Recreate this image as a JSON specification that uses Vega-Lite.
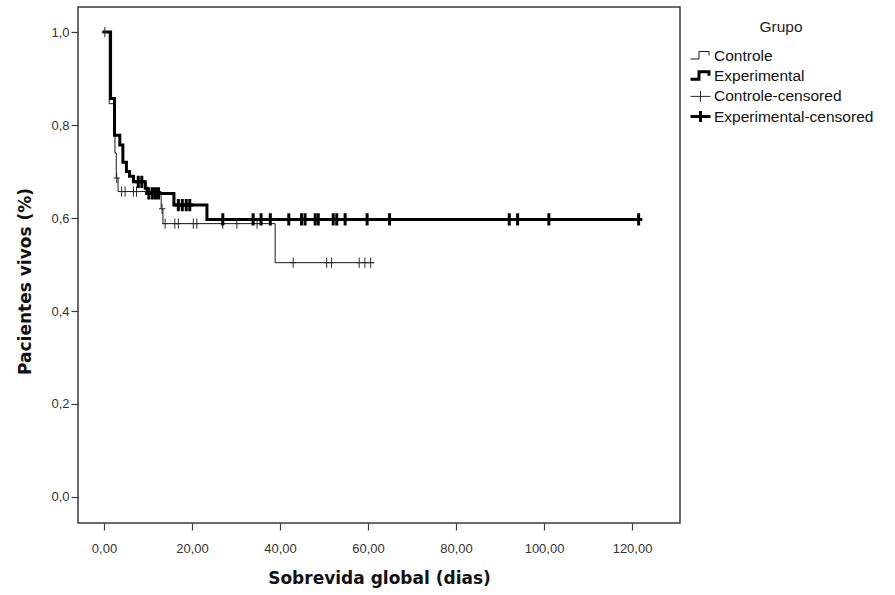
{
  "$schema": "https://vega.github.io/schema/vega-lite/v6.json",
  "autosize": "none",
  "width": 602,
  "height": 516,
  "padding": {"left": 78, "top": 7, "right": 215, "bottom": 72},
  "background": "white",
  "config": {
    "view": {"stroke": "#3a3a3a", "strokeWidth": 1.5},
    "axis": {
      "grid": false,
      "domain": false,
      "tickColor": "#3a3a3a",
      "tickSize": 7,
      "tickWidth": 1.2,
      "labelFont": "Liberation Sans",
      "labelFontSize": 13,
      "labelColor": "#333333",
      "titleFont": "DejaVu Sans",
      "titleFontWeight": "bold",
      "titleFontSize": 17,
      "titleColor": "#111111"
    }
  },
  "data": {"values": [
      {"g": "Controle", "k": "line", "t": 0, "s": 1.0},
      {"g": "Controle", "k": "line", "t": 1.2, "s": 0.846},
      {"g": "Controle", "k": "line", "t": 2.5, "s": 0.74},
      {"g": "Controle", "k": "line", "t": 2.8, "s": 0.686},
      {"g": "Controle", "k": "line", "t": 3.2, "s": 0.657},
      {"g": "Controle", "k": "line", "t": 13.0, "s": 0.62},
      {"g": "Controle", "k": "line", "t": 13.4, "s": 0.588},
      {"g": "Controle", "k": "line", "t": 38.9, "s": 0.504},
      {"g": "Controle", "k": "line", "t": 61.4, "s": 0.504},
      {"g": "Experimental", "k": "line", "t": 0, "s": 1.0},
      {"g": "Experimental", "k": "line", "t": 1.5, "s": 0.857},
      {"g": "Experimental", "k": "line", "t": 2.4, "s": 0.778},
      {"g": "Experimental", "k": "line", "t": 3.6, "s": 0.757},
      {"g": "Experimental", "k": "line", "t": 4.3, "s": 0.72},
      {"g": "Experimental", "k": "line", "t": 5.1, "s": 0.70},
      {"g": "Experimental", "k": "line", "t": 5.8, "s": 0.69},
      {"g": "Experimental", "k": "line", "t": 6.7, "s": 0.678},
      {"g": "Experimental", "k": "line", "t": 9.4, "s": 0.664},
      {"g": "Experimental", "k": "line", "t": 9.8, "s": 0.653},
      {"g": "Experimental", "k": "line", "t": 15.9, "s": 0.628},
      {"g": "Experimental", "k": "line", "t": 23.4, "s": 0.597},
      {"g": "Experimental", "k": "line", "t": 121.5, "s": 0.597},
      {"g": "Controle-censored", "k": "cens", "t": 0.2, "s": 1.0},
      {"g": "Controle-censored", "k": "cens", "t": 2.9, "s": 0.686},
      {"g": "Controle-censored", "k": "cens", "t": 4.0, "s": 0.657},
      {"g": "Controle-censored", "k": "cens", "t": 4.8, "s": 0.657},
      {"g": "Controle-censored", "k": "cens", "t": 6.7, "s": 0.657},
      {"g": "Controle-censored", "k": "cens", "t": 7.4, "s": 0.657},
      {"g": "Controle-censored", "k": "cens", "t": 13.2, "s": 0.62},
      {"g": "Controle-censored", "k": "cens", "t": 13.9, "s": 0.588},
      {"g": "Controle-censored", "k": "cens", "t": 16.1, "s": 0.588},
      {"g": "Controle-censored", "k": "cens", "t": 16.9, "s": 0.588},
      {"g": "Controle-censored", "k": "cens", "t": 20.3, "s": 0.588},
      {"g": "Controle-censored", "k": "cens", "t": 21.1, "s": 0.588},
      {"g": "Controle-censored", "k": "cens", "t": 27.0, "s": 0.588},
      {"g": "Controle-censored", "k": "cens", "t": 30.2, "s": 0.588},
      {"g": "Controle-censored", "k": "cens", "t": 34.8, "s": 0.588},
      {"g": "Controle-censored", "k": "cens", "t": 43.0, "s": 0.504},
      {"g": "Controle-censored", "k": "cens", "t": 50.6, "s": 0.504},
      {"g": "Controle-censored", "k": "cens", "t": 51.7, "s": 0.504},
      {"g": "Controle-censored", "k": "cens", "t": 58.0, "s": 0.504},
      {"g": "Controle-censored", "k": "cens", "t": 59.3, "s": 0.504},
      {"g": "Controle-censored", "k": "cens", "t": 60.6, "s": 0.504},
      {"g": "Experimental-censored", "k": "cens", "t": 7.8, "s": 0.678},
      {"g": "Experimental-censored", "k": "cens", "t": 8.6, "s": 0.678},
      {"g": "Experimental-censored", "k": "cens", "t": 10.2, "s": 0.653},
      {"g": "Experimental-censored", "k": "cens", "t": 11.0, "s": 0.653},
      {"g": "Experimental-censored", "k": "cens", "t": 11.7, "s": 0.653},
      {"g": "Experimental-censored", "k": "cens", "t": 12.4, "s": 0.653},
      {"g": "Experimental-censored", "k": "cens", "t": 16.9, "s": 0.628},
      {"g": "Experimental-censored", "k": "cens", "t": 17.8, "s": 0.628},
      {"g": "Experimental-censored", "k": "cens", "t": 18.7, "s": 0.628},
      {"g": "Experimental-censored", "k": "cens", "t": 19.5, "s": 0.628},
      {"g": "Experimental-censored", "k": "cens", "t": 27.0, "s": 0.597},
      {"g": "Experimental-censored", "k": "cens", "t": 33.9, "s": 0.597},
      {"g": "Experimental-censored", "k": "cens", "t": 35.7, "s": 0.597},
      {"g": "Experimental-censored", "k": "cens", "t": 37.8, "s": 0.597},
      {"g": "Experimental-censored", "k": "cens", "t": 42.0, "s": 0.597},
      {"g": "Experimental-censored", "k": "cens", "t": 44.9, "s": 0.597},
      {"g": "Experimental-censored", "k": "cens", "t": 45.7, "s": 0.597},
      {"g": "Experimental-censored", "k": "cens", "t": 48.0, "s": 0.597},
      {"g": "Experimental-censored", "k": "cens", "t": 48.7, "s": 0.597},
      {"g": "Experimental-censored", "k": "cens", "t": 52.1, "s": 0.597},
      {"g": "Experimental-censored", "k": "cens", "t": 52.9, "s": 0.597},
      {"g": "Experimental-censored", "k": "cens", "t": 54.8, "s": 0.597},
      {"g": "Experimental-censored", "k": "cens", "t": 59.8, "s": 0.597},
      {"g": "Experimental-censored", "k": "cens", "t": 64.9, "s": 0.597},
      {"g": "Experimental-censored", "k": "cens", "t": 92.1, "s": 0.597},
      {"g": "Experimental-censored", "k": "cens", "t": 94.0, "s": 0.597},
      {"g": "Experimental-censored", "k": "cens", "t": 101.1, "s": 0.597},
      {"g": "Experimental-censored", "k": "cens", "t": 121.5, "s": 0.597}
  ]},
  "encoding": {
    "x": {
      "field": "t", "type": "quantitative",
      "scale": {"domain": [-5.9, 130.9], "nice": false, "zero": false},
      "axis": {
        "title": "Sobrevida global (dias)",
        "values": [0, 20, 40, 60, 80, 100, 120],
        "labelExpr": "replace(format(datum.value, '.2f'), '.', ',')",
        "labelPadding": 12,
        "titlePadding": 15
      }
    },
    "y": {
      "field": "s", "type": "quantitative",
      "scale": {"domain": [-0.056, 1.054], "nice": false, "zero": false},
      "axis": {
        "title": "Pacientes vivos (%)",
        "values": [0, 0.2, 0.4, 0.6, 0.8, 1.0],
        "labelExpr": "replace(format(datum.value, '.1f'), '.', ',')",
        "labelPadding": 2,
        "titlePadding": 16,
        "titleY": 274
      }
    },
    "color": {
      "field": "g", "type": "nominal",
      "scale": {
        "domain": ["Controle", "Experimental", "Controle-censored", "Experimental-censored"],
        "range": ["#1a1a1a", "#000000", "#2a2a2a", "#000000"]
      },
      "legend": {
        "title": "Grupo",
        "orient": "none",
        "legendX": 611,
        "legendY": 13,
        "padding": 0,
        "titleFont": "Liberation Sans",
        "titleFontSize": 15.5,
        "titleFontWeight": "normal",
        "titleColor": "#222222",
        "titleAnchor": "middle",
        "titleAlign": "center",
        "titlePadding": 10,
        "labelFont": "Liberation Sans",
        "labelFontSize": 15.5,
        "labelColor": "#111111",
        "labelOffset": 2,
        "symbolSize": 400,
        "rowPadding": 0.2,
        "symbolType": "stroke",
        "encode": {
          "symbols": {
            "update": {
              "shape": {"signal": "indexof(datum.value, 'censored') > 0 ? 'M-1,0H1M0,-0.55V0.55' : 'M-1,0.3H-0.15V-0.45H0.85V-0.05'"},
              "strokeWidth": {"signal": "indexof(datum.value, 'Experimental') == 0 ? 3 : 1"},
              "stroke": {"signal": "indexof(datum.value, 'censored') > 0 && indexof(datum.value, 'Controle') == 0 ? '#555555' : '#111111'"},
              "fill": {"value": "transparent"},
              "size": {"value": 400}
            }
          }
        }
      }
    },
    "strokeWidth": {
      "field": "g", "type": "nominal",
      "scale": {"type": "ordinal", "domain": ["Controle", "Experimental", "Controle-censored", "Experimental-censored"], "range": [1, 3, 1, 3]},
      "legend": null
    }
  },
  "layer": [
    {
      "transform": [{"filter": "datum.k == 'line'"}],
      "mark": {"type": "line", "interpolate": "step-after", "strokeCap": "square", "strokeJoin": "miter"},
      "encoding": {"detail": {"field": "g"}}
    },
    {
      "transform": [{"filter": "datum.k == 'cens'"}],
      "mark": {"type": "point", "shape": "M-0.6,0H0.6M0,-1V1", "filled": false, "opacity": 1},
      "encoding": {
        "detail": {"field": "g"},
        "size": {
          "field": "g", "type": "nominal",
          "scale": {"type": "ordinal", "domain": ["Controle-censored", "Experimental-censored"], "range": [105, 150]},
          "legend": null
        }
      }
    }
  ]
}
